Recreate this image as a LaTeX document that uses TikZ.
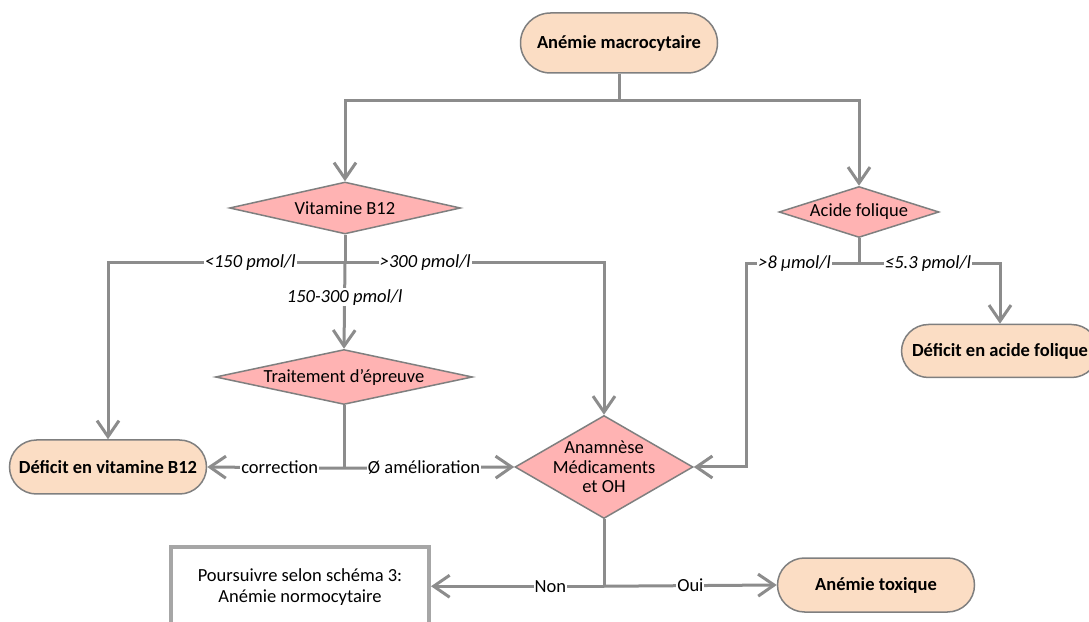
\documentclass[tikz,border=0pt]{standalone}
\usepackage{fontspec}
\setmainfont{Carlito}
\usetikzlibrary{shapes.geometric,arrows.meta}
\definecolor{termfill}{HTML}{FBDDC4}
\definecolor{decfill}{HTML}{FFB3B3}
\definecolor{edgegray}{HTML}{7F7F7F}
\definecolor{linegray}{HTML}{8C8C8C}
\definecolor{boxgray}{HTML}{A6A6A6}
\newcommand{\figfont}{\fontsize{18.5}{20}\selectfont}
\tikzset{
  every node/.style={font=\figfont},
  term/.style={draw=edgegray, line width=1.5pt, fill=termfill, rectangle,
    rounded corners=27pt, minimum height=54pt, minimum width=197pt,
    inner sep=0pt, font=\figfont\bfseries},
  dec/.style={draw=edgegray, line width=1.5pt, fill=decfill, diamond,
    inner sep=0pt, shape aspect=1},
  conn/.style={draw=linegray, line width=3pt},
  arr/.style={conn, -{Straight Barb[length=16pt,width=22pt,line width=3pt]}},
  lbl/.style={fill=white, inner sep=1pt, font=\figfont},
  ilbl/.style={lbl, font=\figfont\itshape},
}
\begin{document}
\begin{tikzpicture}[x=1pt,y=1pt]
\useasboundingbox (0,0) rectangle (1089,621);

% terminal and decision nodes
\node[term, minimum height=60pt, rounded corners=30pt] (macro) at (619,578) {Anémie macrocytaire};
\node[dec, minimum width=231pt, minimum height=52pt, label={center:Vitamine B12}] (b12) at (345,413) {};
\node[dec, minimum width=160pt, minimum height=51pt, label={center:Acide folique}] (af) at (859,409) {};
\node[dec, minimum width=257pt, minimum height=55pt, label={center:Traitement d’épreuve}] (trt) at (344,244) {};
\node[dec, minimum width=178pt, minimum height=103pt,
      label={[align=center, font=\fontsize{18.5}{19.5}\selectfont]center:Anamnèse\\Médicaments\\et OH}] (ana) at (604,154) {};
\node[term] (defb) at (108,154) {Déficit en vitamine B12};
\node[term, minimum height=53pt] (defaf) at (1000,270) {Déficit en acide folique};
\node[term] (tox) at (876,36) {Anémie toxique};
\node[draw=boxgray, line width=4pt, fill=white, minimum width=258pt, minimum height=80pt,
      align=center, inner sep=0pt, font=\fontsize{18.5}{21}\selectfont] (pours) at (300,34)
      {Poursuivre selon schéma 3:\\Anémie normocytaire};

% first split
\draw[conn] (macro.south) -- ++(0,-27) coordinate (j1);
\draw[arr] (j1) -| (b12.north);
\draw[arr] (j1) -| (af.north);

% vitamin B12 branches
\draw[conn] (b12.south) -- ++(0,-28) coordinate (j2);
\draw[arr] (j2) -| node[ilbl, pos=0.2] {<150 pmol/l} (defb.north);
\draw[arr] (j2) -| node[ilbl, pos=0.155] {>300 pmol/l} (ana.north);
\draw[arr] (j2) -- node[ilbl, pos=0.4] {150-300 pmol/l} (trt.north);

% trial treatment outcome
\draw[conn] (trt.south) -- ++(0,-63) coordinate (j3);
\draw[arr] (j3) -- node[lbl, pos=0.47] {correction} (defb.east);
\draw[arr] (j3) -- node[lbl, pos=0.47] {Ø amélioration} (ana.west);

% folic acid branches
\draw[conn] (af.south) -- ++(0,-25) coordinate (j4);
\draw[arr] (j4) -- node[ilbl, pos=0.57] {>8 µmol/l} ++(-113,0) |- (ana.east);
\draw[arr] (j4) -| node[ilbl, pos=0.245] {≤5.3 pmol/l} (defaf.north);

% history outcome
\draw[conn] (ana.south) -- ++(0,-67) coordinate (j5);
\draw[arr] (j5) -- node[lbl, pos=0.31] {Non} (pours.east |- j5);
\draw[arr] (j5) -- node[lbl, pos=0.5] {Oui} (tox.west);
\end{tikzpicture}
\end{document}
